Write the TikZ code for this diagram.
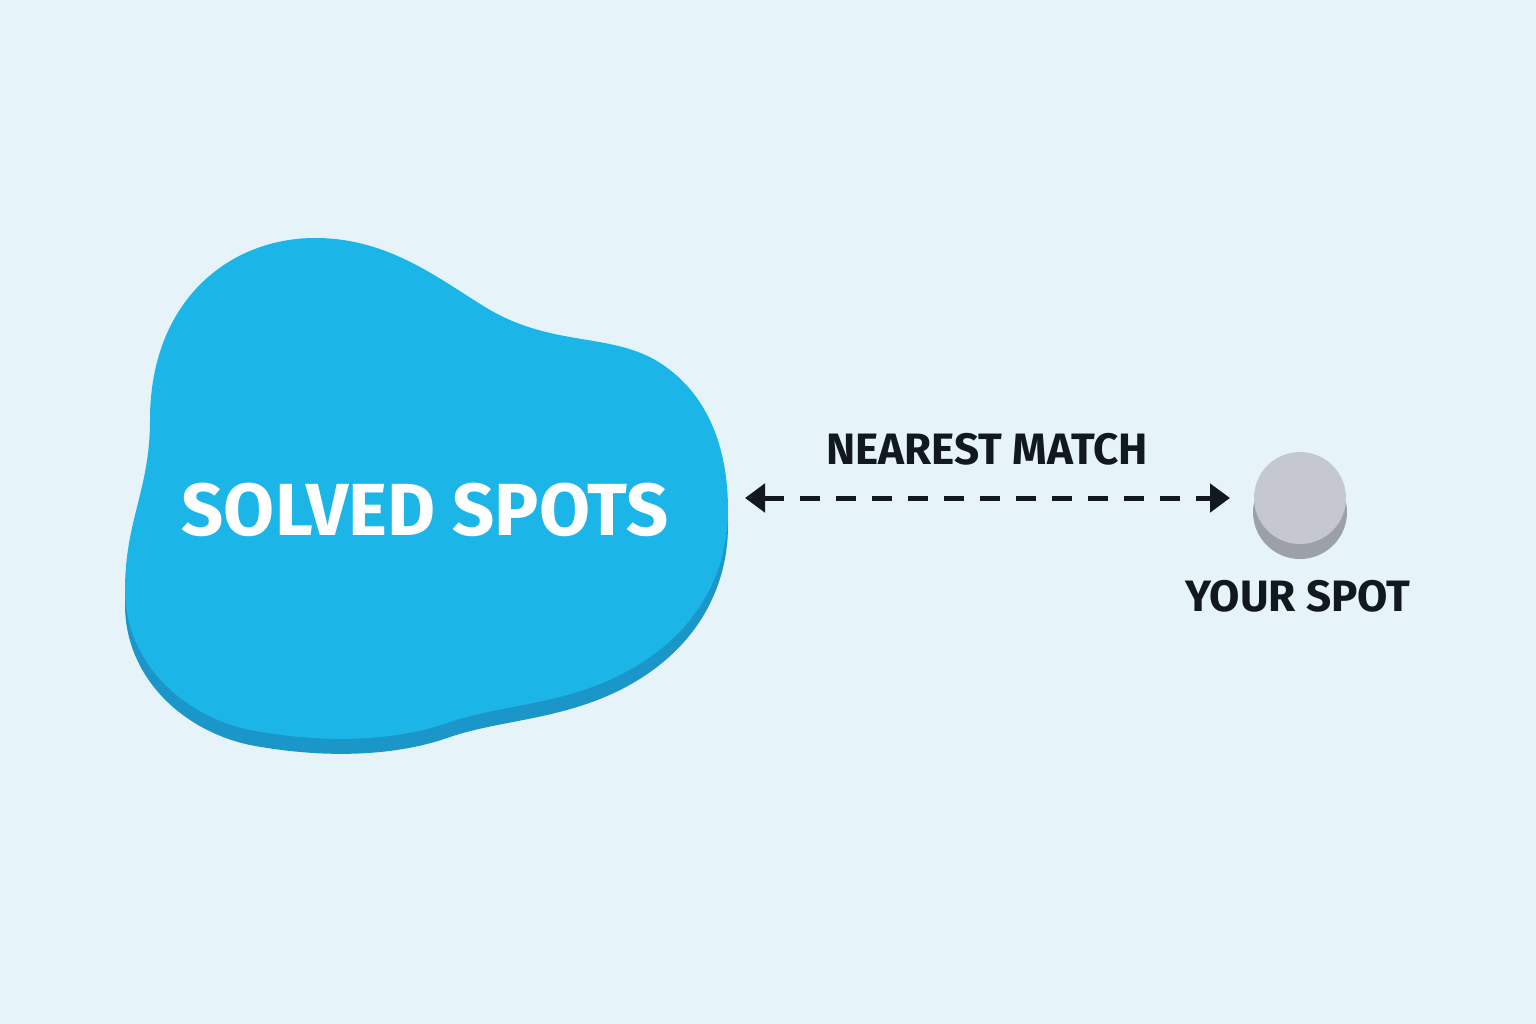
\documentclass[tikz,border=0pt]{standalone}
\usepackage{fontspec}
\setmainfont{Fira Sans}
\usetikzlibrary{arrows.meta}
\definecolor{bg}{HTML}{E6F4F9}
\definecolor{blob}{HTML}{1CB5E8}
\definecolor{blobsh}{HTML}{1A96C8}
\definecolor{spot}{HTML}{C5C8D0}
\definecolor{spotsh}{HTML}{9CA0A8}
\definecolor{ink}{HTML}{111820}
\tikzset{lbl/.style={font=\bfseries, text=ink}}
\begin{document}
\begin{tikzpicture}[x=0.01cm,y=-0.01cm]
\fill[bg] (0,0) rectangle (1536,1024);
\def\blobpath{(315,238) .. controls (390,238) and (440,280) .. (490,310)
 .. controls (560,350) and (620,330) .. (670,370)
 .. controls (715,405) and (728,460) .. (728,510)
 .. controls (728,580) and (690,640) .. (620,675)
 .. controls (560,705) and (500,705) .. (450,722)
 .. controls (400,740) and (330,745) .. (250,730)
 .. controls (180,715) and (125,660) .. (125,590)
 .. controls (125,520) and (150,490) .. (150,420)
 .. controls (150,300) and (230,238) .. (315,238) -- cycle}
\fill[blobsh, yshift=-0.15cm] \blobpath;
\fill[blob] \blobpath;
\node[font=\bfseries\fontsize{21}{24}\selectfont, text=white] (solved) at (425,510) {SOLVED SPOTS};
\fill[spotsh] (1300,512) ellipse [x radius=47, y radius=47];
\fill[spot] (1300,498) circle [radius=46];
\node[inner sep=0, minimum size=0.94cm] (you) at (1300,498) {};
\node[lbl, font=\bfseries\fontsize{12.5}{15}\selectfont] (ys) at (1298,596) {YOUR SPOT};
\coordinate (a) at (745,498);
\coordinate (b) at (1230,498);
\draw[ink, line width=0.05cm, dash pattern=on 0.2cm off 0.16cm, {Triangle[length=0.2cm,width=0.28cm]}-{Triangle[length=0.2cm,width=0.28cm]}] (a) -- (b);
\node[lbl, font=\bfseries\fontsize{12.5}{15}\selectfont] (nm) at (987,449) {NEAREST MATCH};
\end{tikzpicture}
\end{document}
